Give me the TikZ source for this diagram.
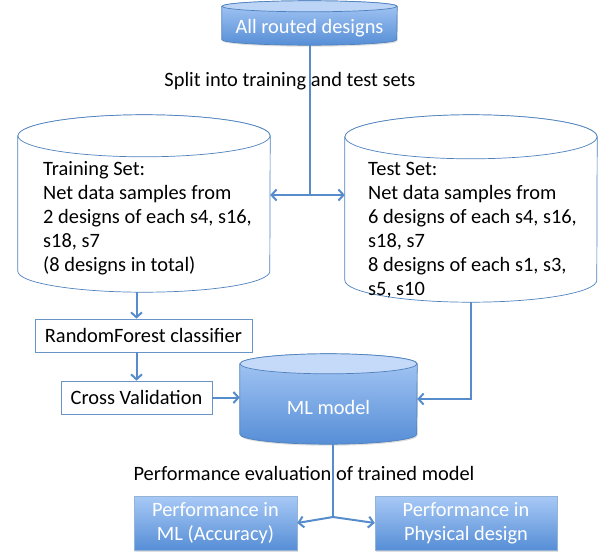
\documentclass[tikz,border=0pt]{standalone}
\usepackage{fontspec}
\setmainfont{Carlito}
\usetikzlibrary{arrows.meta,shadows}

\definecolor{edgeblue}{RGB}{79,129,189}
\definecolor{lineblue}{RGB}{86,140,203}
\definecolor{lightfill}{RGB}{168,201,246}
\definecolor{darkfill}{RGB}{86,142,214}
\definecolor{capfill}{RGB}{196,218,248}

% cylinder outline round a named rectangle: node, half width, end radius, body style, cap fill
\newcommand\drawdb[5]{%
  \draw[dbline, #4] ([yshift=-#3]#1.north west) -- ([yshift=#3]#1.south west)
    arc[start angle=180, end angle=360, x radius=#2, y radius=#3]
    -- ([yshift=-#3]#1.north east)
    arc[start angle=0, end angle=180, x radius=#2, y radius=#3] -- cycle;
  \draw[dbline, fill=#5] ([yshift=-#3]#1.north) ellipse [x radius=#2, y radius=#3];
}

\tikzset{
  softshadow/.style={drop shadow={shadow xshift=0.8pt, shadow yshift=-1.5pt, opacity=0.25}},
  dbline/.style={draw=edgeblue, line width=0.7pt},
  dbarea/.style={rectangle, inner sep=0pt},
  dbshade/.style={top color=lightfill, bottom color=darkfill, softshadow},
  plainbox/.style={rectangle, draw=edgeblue!85, line width=0.7pt, fill=white, minimum height=33pt, inner sep=0pt},
  filledbox/.style={rectangle, draw=edgeblue!60, top color=lightfill, bottom color=darkfill, softshadow,
    text=white, align=center, minimum height=54pt, inner sep=0pt},
  dbtext/.style={anchor=base west, align=left, inner sep=0pt},
  link/.style={draw=lineblue, line width=2pt},
  arr/.style={link, -{Straight Barb[length=5pt,width=11pt]}},
}

\begin{document}
\begin{tikzpicture}[x=1pt, y=-1pt, font=\fontsize{20.4}{24}\selectfont]
  \useasboundingbox (0,0) rectangle (600,552);

  % data bases
  \node[dbarea, minimum width=175pt, minimum height=44pt] (alld) at (309.5,23) {};
  \drawdb{alld}{87.5pt}{5.5pt}{dbshade}{capfill!70!lightfill}
  \node[text=white] (alltext) at (309.5,28) {All routed designs};

  \node[dbarea, minimum width=252pt, minimum height=177pt] (train) at (144,203.5) {};
  \drawdb{train}{126pt}{21pt}{fill=white}{white}
  \node[dbtext] (traintext) at (43,271) {Training Set:\\Net data samples from\\2 designs of each s4, s16,\\s18, s7\\(8 designs in total)};

  \node[dbarea, minimum width=252pt, minimum height=187pt] (test) at (471,208.5) {};
  \drawdb{test}{126pt}{22pt}{fill=white}{white}
  \node[dbtext] (testtext) at (368,295) {Test Set:\\Net data samples from\\6 designs of each s4, s16,\\s18, s7\\8 designs of each s1, s3,\\s5, s10};

  \node[dbarea, minimum width=177pt, minimum height=90pt] (ml) at (328.5,399) {};
  \drawdb{ml}{88.5pt}{10pt}{dbshade}{capfill}
  \node[text=white] (mltext) at (328.5,407) {ML model};

  % boxes
  \node[plainbox, minimum width=217pt] (rf) at (143.5,335.5) {RandomForest classifier};
  \node[plainbox, minimum width=151pt] (cv) at (136.5,397.5) {Cross Validation};
  \node[filledbox, minimum width=163pt] (perfml) at (215.5,523) {Performance in\\ML (Accuracy)};
  \node[filledbox, minimum width=182pt] (perfpd) at (466,523) {Performance in\\Physical design};

  % labels
  \node (splitlabel) at (290,81) {Split into training and test sets};
  \node (evallabel) at (304,473) {Performance evaluation of trained model};

  % connectors
  \coordinate (split) at (309.5,195);
  \coordinate (evalsplit) at (333,517);
  \draw[link] (alld.south) -- (split);
  \draw[arr] (split) -- (split -| train.east);
  \draw[arr] (split) -- (split -| test.west);
  \draw[arr] (train.south -| cv.north) -- (rf.north -| cv.north);
  \draw[arr] (rf.south -| cv.north) -- (cv.north);
  \draw[arr] (cv.east) -- (cv.east -| ml.west);
  \draw[arr] (test.south) |- (ml.east);
  \draw[link] (ml.south -| evalsplit) -- (evalsplit);
  \draw[arr] (evalsplit) -- (perfml.east);
  \draw[arr] (evalsplit) -- (perfpd.west);
\end{tikzpicture}
\end{document}
